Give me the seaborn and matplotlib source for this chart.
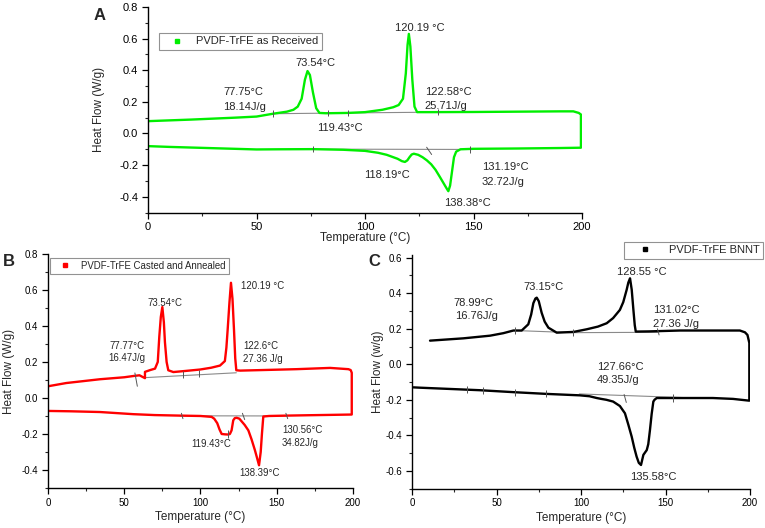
import pandas as pd
import numpy as np
import matplotlib
matplotlib.use("Agg")
import matplotlib.pyplot as plt
from matplotlib.lines import Line2D
from matplotlib.ticker import MultipleLocator
import seaborn as sns

# ================================
# 1. DATA
# ================================
# A - PVDF-TrFE as received
a_heat_T = [0, 20, 40, 50, 57.6, 64, 67, 69, 70.8, 72.3, 73.5, 74.6, 76, 77.5, 79, 82, 92, 100,
            108, 113, 115.5, 117.5, 118.8, 119.6, 120.2, 120.9, 121.8, 122.8, 124, 130, 150, 170,
            190, 196, 198.5, 199.5]
a_heat_Q = [0.078, 0.088, 0.1, 0.107, 0.125, 0.138, 0.15, 0.17, 0.22, 0.34, 0.395, 0.37, 0.26,
            0.16, 0.13, 0.128, 0.13, 0.135, 0.15, 0.166, 0.18, 0.22, 0.38, 0.56, 0.63, 0.55, 0.34,
            0.17, 0.135, 0.135, 0.136, 0.138, 0.14, 0.14, 0.13, 0.12]
a_cool_T = [199.5, 190, 170, 150, 144, 142, 141, 140, 139.2, 138.4, 137.5, 136, 134.5, 132.5,
            130.5, 128.5, 126.5, 124.5, 122.5, 121.5, 120.5, 119.5, 118.4, 117, 115, 113, 110,
            106, 100, 90, 76, 60, 50, 30, 10, 0]
a_cool_Q = [-0.09, -0.092, -0.095, -0.097, -0.1, -0.115, -0.15, -0.25, -0.33, -0.365, -0.345,
            -0.31, -0.275, -0.23, -0.195, -0.17, -0.15, -0.135, -0.128, -0.133, -0.15, -0.17,
            -0.18, -0.175, -0.16, -0.15, -0.135, -0.122, -0.11, -0.103, -0.099, -0.1, -0.101,
            -0.093, -0.085, -0.08]
a_base_up_T = [57.6, 92.2, 133.6]
a_base_up_Q = [0.125, 0.13, 0.135]
a_base_lo_T = [76, 148.4]
a_base_lo_Q = [-0.099, -0.101]
a_tick_T = [57.6, 82.8, 92.2, 133.6, 76, 148.4]
a_tick_Q = [0.126, 0.128, 0.13, 0.135, -0.099, -0.101]
a_notes = ["73.54°C", "77.75°C", "18.14J/g", "119.43°C", "120.19 °C", "122.58°C", "25.71J/g",
           "118.19°C", "131.19°C", "32.72J/g", "138.38°C"]
a_note_T = [77.0, 43.8, 44.7, 88.5, 125.3, 138.2, 137.3, 110.1, 164.5, 163.6, 147.0]
a_note_Q = [0.443, 0.26, 0.165, 0.032, 0.665, 0.26, 0.171, -0.26, -0.209, -0.304, -0.437]

# B - PVDF-TrFE casted and annealed
b_heat_T = [0, 12, 34, 50, 56, 60, 63.6, 63.6, 67, 70.2, 72, 73, 74, 75, 76, 76.7, 77.8, 78.9,
            82.2, 90, 99.7, 107, 112.8, 116, 117, 117.8, 119, 120, 121, 122, 122.8, 123.5, 126,
            140, 163, 185, 197, 198.5, 199.2]
b_heat_Q = [0.065, 0.083, 0.104, 0.115, 0.122, 0.126, 0.11, 0.145, 0.155, 0.163, 0.2, 0.34,
            0.45, 0.505, 0.42, 0.31, 0.2, 0.154, 0.144, 0.15, 0.158, 0.168, 0.18, 0.205, 0.28,
            0.376, 0.53, 0.64, 0.55, 0.376, 0.22, 0.154, 0.152, 0.155, 0.16, 0.167, 0.16, 0.155,
            0.14]
b_cool_T = [199.2, 185, 170, 156.5, 145, 141.2, 140.3, 139.5, 138.4, 137, 135.7, 133.5, 131.4,
            129, 127, 125.5, 123.7, 122.5, 121.5, 120.4, 119.3, 118.2, 116, 113.9, 112.5, 111,
            109, 107.3, 100, 86.6, 70, 56, 34, 15, 0]
b_cool_Q = [-0.092, -0.094, -0.096, -0.098, -0.1, -0.103, -0.2, -0.3, -0.374, -0.33, -0.29,
            -0.23, -0.18, -0.15, -0.13, -0.115, -0.11, -0.112, -0.124, -0.18, -0.2, -0.203,
            -0.202, -0.2, -0.175, -0.14, -0.115, -0.105, -0.1, -0.098, -0.095, -0.09, -0.078,
            -0.074, -0.072]
b_base_up_T = [63.5, 123.5]
b_base_up_Q = [0.113, 0.14]
b_base_lo_T = [86.6, 156.5]
b_base_lo_Q = [-0.099, -0.1]
b_tick_T = [88.7, 99.0, 117.8]
b_tick_Q = [0.13, 0.135, -0.2]
b_slant = [((57.0, 0.139), (58.6, 0.065)), ((87.5, -0.085), (88.5, -0.115)),
           ((127.5, -0.085), (129.0, -0.12)), ((156.0, -0.085), (157.2, -0.115))]
b_notes = ["73.54°C", "120.19 °C", "122.6°C", "27.36 J/g", "77.77°C", "16.47J/g", "119.43°C",
           "130.56°C", "34.82J/g", "138.39°C"]
b_note_T = [76.9, 141.0, 139.7, 141.0, 51.8, 51.8, 106.9, 166.6, 165.2, 139.0]
b_note_Q = [0.526, 0.623, 0.287, 0.217, 0.287, 0.22, -0.257, -0.18, -0.25, -0.418]

# C - PVDF-TrFE BNNT
c_heat_T = [10.65, 30.4, 46.2, 54, 60, 64.9, 68.8, 70.5, 71.8, 73, 73.8, 75, 76.7, 78.5, 80.7,
            85.6, 95.5, 103.4, 110, 115.2, 119, 123, 125, 127, 128, 129, 130, 131, 131.8, 132.4,
            140, 158.6, 180, 194, 197, 198.5, 199.6]
c_heat_Q = [0.133, 0.146, 0.161, 0.175, 0.19, 0.19, 0.225, 0.28, 0.344, 0.37, 0.375, 0.355,
            0.29, 0.24, 0.206, 0.178, 0.182, 0.197, 0.212, 0.231, 0.26, 0.306, 0.35, 0.419,
            0.46, 0.484, 0.42, 0.306, 0.22, 0.184, 0.185, 0.19, 0.19, 0.19, 0.18, 0.165, 0.12]
c_cool_T = [199.6, 190, 178, 160, 144.8, 143.5, 142.8, 141.8, 140.8, 139.8, 138.9, 136.9, 135.5,
            134.2, 132.9, 131.5, 130, 128, 126, 123, 119, 115, 112, 109.3, 105, 99.4, 80, 60,
            40, 20, 5, 0.8]
c_cool_Q = [-0.205, -0.195, -0.19, -0.19, -0.19, -0.2, -0.21, -0.28, -0.37, -0.45, -0.483,
            -0.51, -0.567, -0.555, -0.52, -0.47, -0.408, -0.34, -0.276, -0.235, -0.21, -0.2,
            -0.195, -0.19, -0.18, -0.175, -0.167, -0.157, -0.146, -0.138, -0.132, -0.13]
c_base_up_T = [61, 95, 146]
c_base_up_Q = [0.19, 0.178, 0.18]
c_base_lo_T = [99, 168]
c_base_lo_Q = [-0.167, -0.19]
c_tick_T = [61, 95, 32.4, 42.2, 60.9, 79, 154.6]
c_tick_Q = [0.19, 0.178, -0.143, -0.148, -0.157, -0.166, -0.19]
c_slant = [((145.2, 0.2), (146.2, 0.165)), ((125.5, -0.17), (126.8, -0.215))]
c_notes = ["78.99°C", "16.76J/g", "73.15°C", "128.55 °C", "131.02°C", "27.36 J/g", "127.66°C",
           "49.35J/g", "135.58°C"]
c_note_T = [36.3, 37.9, 77.7, 135.9, 156.6, 156.2, 123.1, 121.7, 142.8]
c_note_Q = [0.344, 0.272, 0.437, 0.522, 0.306, 0.227, -0.014, -0.088, -0.633]

# ================================
# 2. STYLE
# ================================
sns.set_style("ticks")
plt.rcParams['font.family'] = ['Liberation Sans', 'DejaVu Sans']
plt.rcParams['axes.unicode_minus'] = False
plt.rcParams['xtick.direction'] = 'out'
plt.rcParams['ytick.direction'] = 'out'

fig = plt.figure(figsize=(7.65, 5.28), dpi=100)
axA = fig.add_axes([0.1935, 0.5975, 0.5673, 0.3892])
axB = fig.add_axes([0.0627, 0.0758, 0.3987, 0.4432])
axC = fig.add_axes([0.5386, 0.0746, 0.4418, 0.4424])

GREY = '#8a8a8a'


def draw_panel(ax, heat_T, heat_Q, cool_T, cool_Q, color):
    df = pd.DataFrame({'T': heat_T + cool_T, 'Q': heat_Q + cool_Q})
    sns.lineplot(data=df, x='T', y='Q', sort=False, estimator=None,
                 color=color, lw=1.7, ax=ax)


def style_axes(ax, ylim, ylab, yticks, ticksize, xlab_y, ylab_x):
    ax.set_xlim(0, 200)
    ax.set_ylim(*ylim)
    ax.set_yticks(yticks)
    ax.set_yticklabels([f"{v:.1f}" for v in yticks])
    ax.xaxis.set_major_locator(MultipleLocator(50))
    ax.xaxis.set_minor_locator(MultipleLocator(25))
    ax.yaxis.set_minor_locator(MultipleLocator(0.1))
    ax.tick_params(which='major', length=4.5, width=0.9, labelsize=ticksize, pad=2.5,
                   colors='black')
    ax.tick_params(which='minor', length=2.5, width=0.8)
    for s in ['top', 'right']:
        ax.spines[s].set_visible(False)
    for s in ['left', 'bottom']:
        ax.spines[s].set_linewidth(1.0)
        ax.spines[s].set_color('black')
    ax.set_xlabel('Temperature (°C)', fontsize=8.5)
    ax.set_ylabel(ylab, fontsize=8.5)
    ax.xaxis.set_label_coords(0.5, xlab_y)
    ax.yaxis.set_label_coords(ylab_x, 0.5)


def add_marks(ax, base, ticks, slants, notes, size):
    for bt, bq in base:
        ax.plot(bt, bq, color=GREY, lw=0.8, zorder=1)
    tt, tq = ticks
    ax.vlines(tt, np.array(tq) - 0.02, np.array(tq) + 0.02, color='#555555', lw=0.7)
    for (x0, y0), (x1, y1) in slants:
        ax.plot([x0, x1], [y0, y1], color='#555555', lw=0.7)
    for txt, x, y in zip(*notes):
        ax.text(x, y, txt, fontsize=size, ha='center', va='center')


def add_legend(ax, label, color, anchor, loc, size, hl, tp):
    h = Line2D([], [], marker='s', ls='none', color=color, markersize=2.6)
    leg = ax.legend([h], [label], loc=loc, bbox_to_anchor=anchor, fontsize=size,
                    frameon=True, fancybox=False, handlelength=hl, handletextpad=tp,
                    borderpad=0.3, borderaxespad=0)
    leg.get_frame().set_edgecolor('#777777')
    leg.get_frame().set_linewidth(0.8)


# ================================
# 3. PANEL A
# ================================
draw_panel(axA, a_heat_T, a_heat_Q, a_cool_T, a_cool_Q, '#00ee00')
style_axes(axA, (-0.5, 0.8), 'Heat Flow (W/g)', [-0.4, -0.2, 0.0, 0.2, 0.4, 0.6, 0.8],
           8, -0.095, -0.098)
add_marks(axA, [(a_base_up_T, a_base_up_Q), (a_base_lo_T, a_base_lo_Q)],
          (a_tick_T, a_tick_Q),
          [((128.4, -0.087), (130.7, -0.133))],
          (a_notes, a_note_T, a_note_Q), 8)
add_legend(axA, 'PVDF-TrFE as Received', '#00ee00', (0.025, 0.873), 'upper left',
           8, 2.7, 0.35)

# ================================
# 4. PANEL B
# ================================
draw_panel(axB, b_heat_T, b_heat_Q, b_cool_T, b_cool_Q, '#ff0000')
style_axes(axB, (-0.5, 0.8), 'Heat Flow (W/g)', [-0.4, -0.2, 0.0, 0.2, 0.4, 0.6, 0.8],
           7, -0.10, -0.107)
add_marks(axB, [(b_base_up_T, b_base_up_Q), (b_base_lo_T, b_base_lo_Q)],
          (b_tick_T, b_tick_Q), b_slant, (b_notes, b_note_T, b_note_Q), 6.9)
add_legend(axB, 'PVDF-TrFE Casted and Annealed', '#ff0000', (0.007, 0.983), 'upper left',
           6.9, 2.6, 0.35)

# ================================
# 5. PANEL C
# ================================
draw_panel(axC, c_heat_T, c_heat_Q, c_cool_T, c_cool_Q, 'black')
style_axes(axC, (-0.7, 0.615), 'Heat Flow (w/g)', [-0.6, -0.4, -0.2, 0.0, 0.2, 0.4, 0.6],
           7, -0.10, -0.084)
add_marks(axC, [(c_base_up_T, c_base_up_Q), (c_base_lo_T, c_base_lo_Q)],
          (c_tick_T, c_tick_Q), c_slant, (c_notes, c_note_T, c_note_Q), 8)
add_legend(axC, 'PVDF-TrFE BNNT', 'black', (1.038, 1.056), 'upper right',
           8, 3.2, 0.5)

# panel letters
fig.text(100 / 765, 1 - 15 / 528, 'A', fontsize=12, fontweight='bold', ha='center', va='center')
fig.text(9 / 765, 1 - 262 / 528, 'B', fontsize=12, fontweight='bold', ha='center', va='center')
fig.text(374 / 765, 1 - 262 / 528, 'C', fontsize=12, fontweight='bold', ha='center', va='center')

fig.savefig('out.png', dpi=100)
print("saved out.png")
